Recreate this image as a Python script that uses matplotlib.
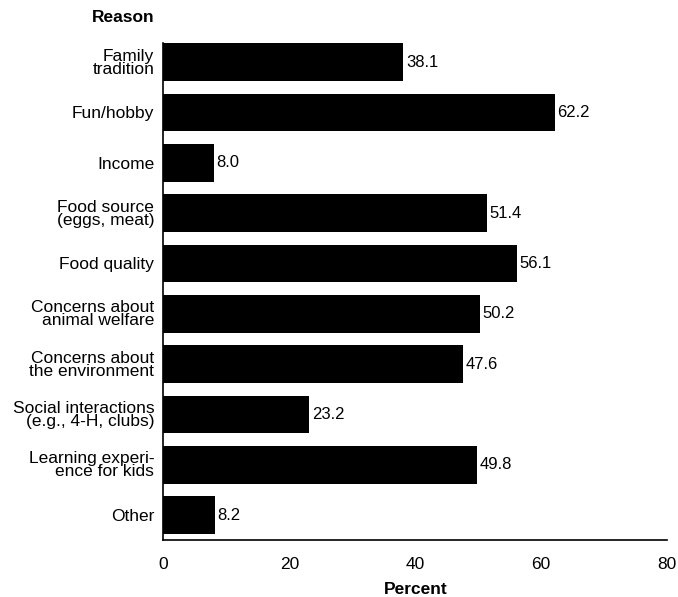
import matplotlib
matplotlib.use("Agg")
import matplotlib.pyplot as plt

# Reasons for keeping chickens, percent of respondents
reasons = [
    "Family\ntradition",
    "Fun/hobby",
    "Income",
    "Food source\n(eggs, meat)",
    "Food quality",
    "Concerns about\nanimal welfare",
    "Concerns about\nthe environment",
    "Social interactions\n(e.g., 4-H, clubs)",
    "Learning experi-\nence for kids",
    "Other",
]
percent = [38.1, 62.2, 8.0, 51.4, 56.1, 50.2, 47.6, 23.2, 49.8, 8.2]
x_ticks = [0, 20, 40, 60, 80]

plt.rcParams['font.family'] = ['Liberation Sans', 'DejaVu Sans']

fig = plt.figure(figsize=(6.78, 5.97), dpi=100)
ax = fig.add_axes([0.241, 0.095, 0.743, 0.833])

pos = list(range(len(reasons)))
ax.barh(pos, percent, height=0.75, color='black')
for p, v in zip(pos, percent):
    ax.text(v + 0.4, p, f"{v:.1f}", va='center', ha='left', fontsize=12)

ax.set_xlim(0, 80)
ax.set_ylim(9.5, -0.38)
ax.set_xticks(x_ticks)
ax.set_yticks(pos)
ax.set_yticklabels(reasons, fontsize=12.5, linespacing=0.85)
ax.tick_params(axis='x', length=0, labelsize=12.5, pad=12)
ax.tick_params(axis='y', length=0, pad=6.5)
for s in ['top', 'right']:
    ax.spines[s].set_visible(False)
ax.spines['left'].set_linewidth(1.2)
ax.spines['bottom'].set_linewidth(1.2)

ax.set_xlabel("Percent", fontsize=12.5, fontweight='bold', labelpad=7)
fig.text(0.228, 0.97, "Reason", fontsize=12.5, fontweight='bold', ha='right', va='center')

fig.savefig("out.png", dpi=100)
